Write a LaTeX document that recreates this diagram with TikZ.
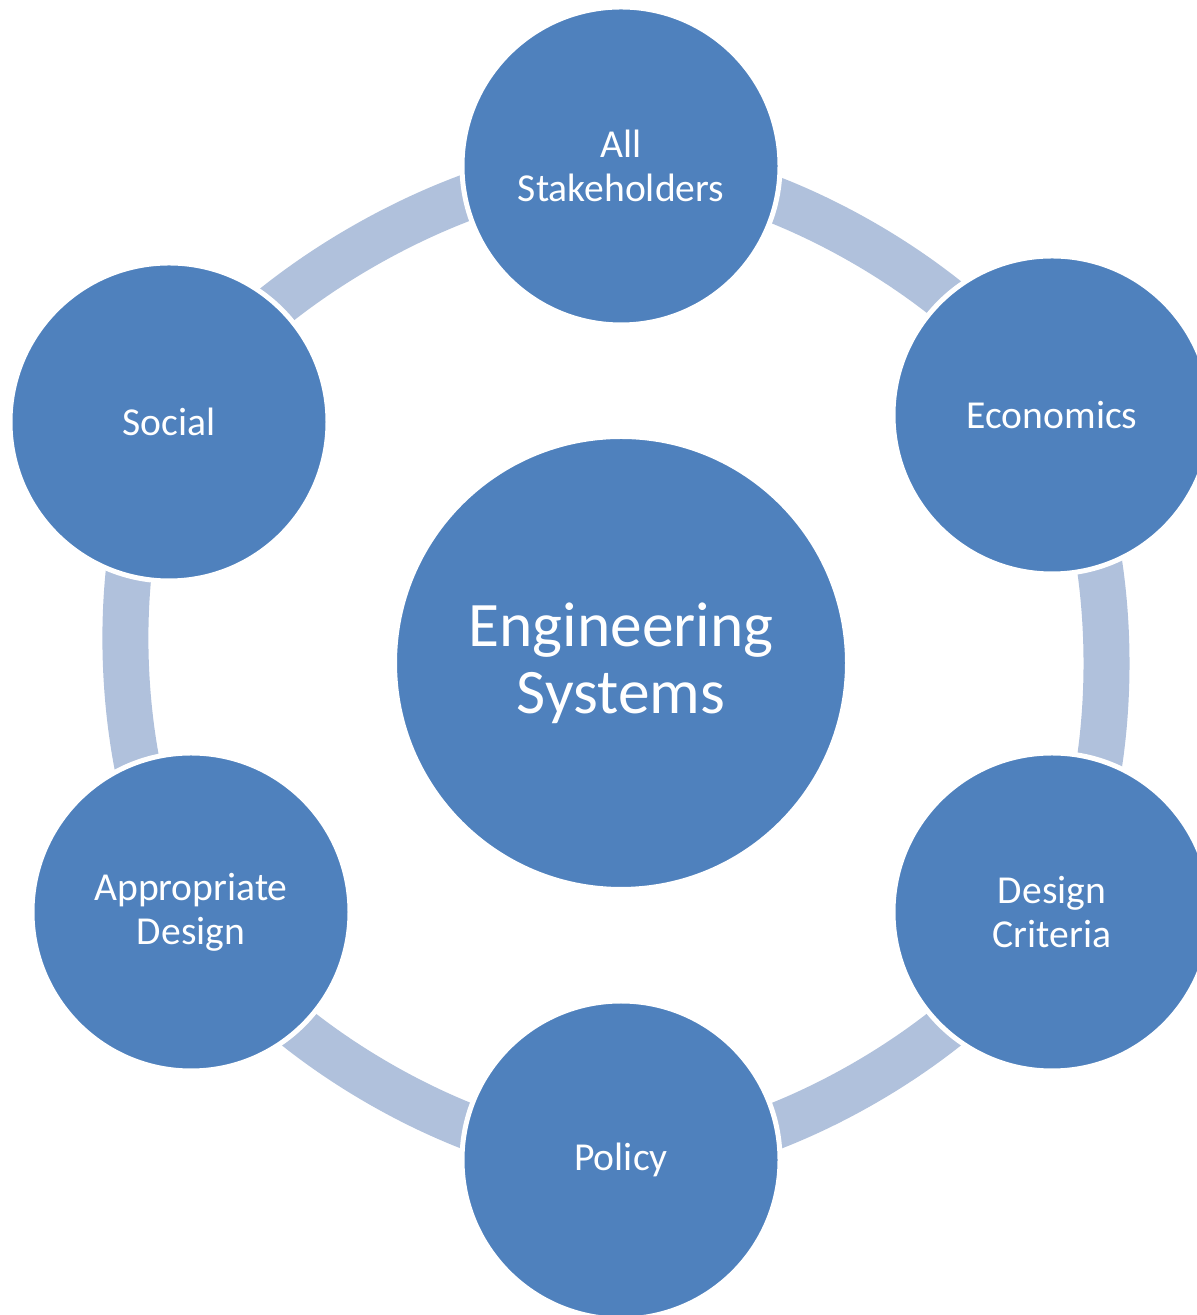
\documentclass[tikz,border=0pt]{standalone}
\usepackage{fontspec}
\setmainfont{Carlito}
\usepackage{tikz}
\usetikzlibrary{backgrounds}
\definecolor{circblue}{RGB}{79,129,189}
\definecolor{ringblue}{RGB}{176,193,220}

\begin{document}
\begin{tikzpicture}[x=0.5pt, y=0.5pt,
    hub/.style={circle, fill=circblue, draw=white, line width=2pt, minimum size=226pt, inner sep=0pt,
                text=white, align=center, font=\fontsize{31.7}{33.5}\selectfont},
    spoke/.style={circle, fill=circblue, draw=white, line width=2.5pt, minimum size=159pt, inner sep=0pt,
                text=white, align=center, font=\fontsize{19.8}{22}\selectfont},
    band/.style={ringblue, line width=23pt, bend left=30, looseness=0.75}]
    \useasboundingbox (0,0) rectangle (1196,1315);

    % Center hub
    \node[hub] (hub) at (621,652) {Engineering\\Systems};

    % Outer circles, clockwise from the top
    \node[spoke] (stake)  at (621,1149) {All\\Stakeholders};
    \node[spoke] (econ)   at (1052,900) {Economics};
    \node[spoke] (crit)   at (1052,403) {Design\\Criteria};
    \node[spoke] (policy) at (621,155)  {Policy};
    \node[spoke] (approp) at (191,403)  {Appropriate\\Design};
    \node[spoke] (social) at (169,893)  {Social};

    % Ring segments behind the circles
    \begin{scope}[on background layer]
        \draw[band] (stake.center) to (econ.center);
        \draw[band] (econ.center) to (crit.center);
        \draw[band] (crit.center) to (policy.center);
        \draw[band] (policy.center) to (approp.center);
        \draw[band] (approp.center) to (social.center);
        \draw[band] (social.center) to (stake.center);
    \end{scope}
\end{tikzpicture}
\end{document}
